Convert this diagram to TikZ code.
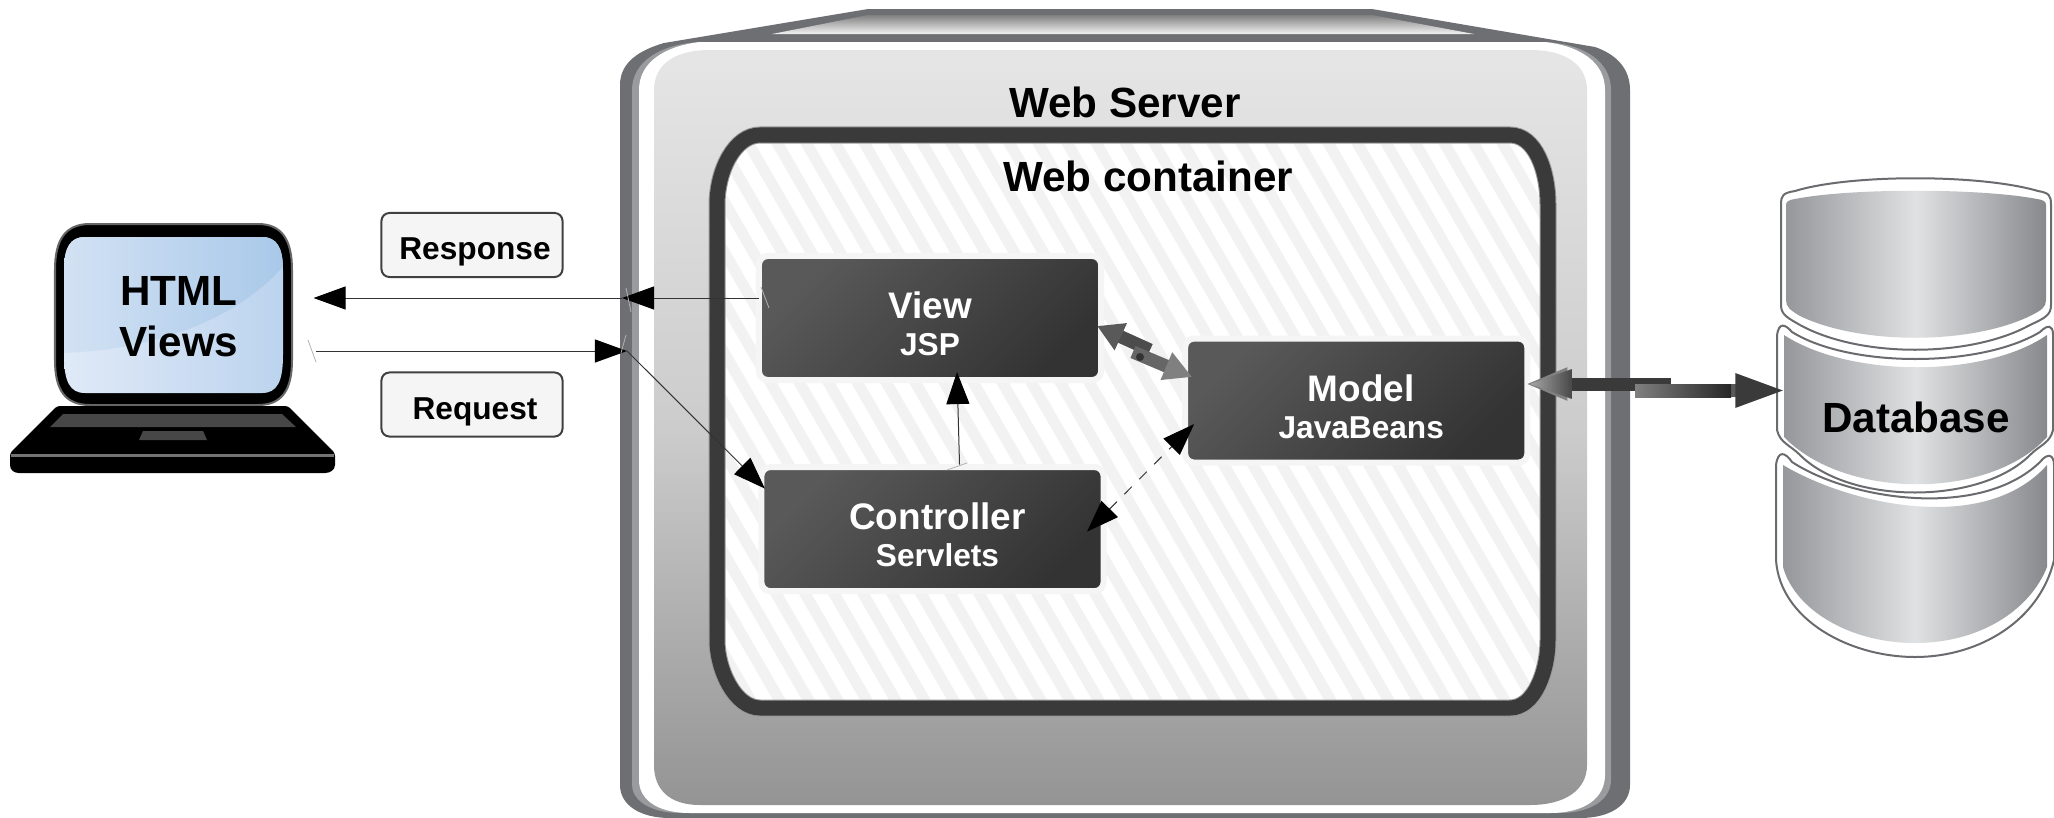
\documentclass[tikz,border=0pt]{standalone}
\usepackage{fontspec}
\setmainfont{Liberation Sans}
\usetikzlibrary{positioning,arrows.meta,calc}
\definecolor{bandDark}{HTML}{6E6F73}
\definecolor{bandLight}{HTML}{9A9B9F}
\definecolor{frameDark}{HTML}{3A3A3A}
\definecolor{stripeGray}{HTML}{F2F2F2}
\definecolor{diskEdge}{HTML}{6A6B6E}
\definecolor{diskSide}{HTML}{96979B}
\definecolor{diskMid}{HTML}{E0E1E2}
\definecolor{diskRight}{HTML}{88898D}
\definecolor{lineGray}{HTML}{333333}
\definecolor{screenTopL}{HTML}{D3E2F3}
\definecolor{screenTopR}{HTML}{A8C8E9}
\definecolor{screenLowL}{HTML}{E0EAF7}
\definecolor{screenLowR}{HTML}{BBD3EE}
\tikzset{
  every picture/.style={line width=0.01cm},
  mvcbox/.style={rectangle, rounded corners=0.09cm, draw=black!4, line width=0.06cm, top color=black!65, bottom color=black!80, shading angle=45, minimum width=3.42cm, minimum height=1.24cm, outer sep=0pt, inner sep=0pt, align=center, text=white, font=\bfseries},
  lblbox/.style={rectangle, rounded corners=0.08cm, draw=black!75, line width=0.02cm, fill=black!4, minimum width=1.81cm, minimum height=0.64cm, align=center, text height=8.5pt, text depth=0pt, font=\fontsize{9}{11}\selectfont\bfseries, path picture={\foreach \h in {-100,-94,...,200} \draw[black!12, line width=0.008cm] (path picture bounding box.north west)++(\h*0.01,0) -- ++(1,-1);}},
  heading/.style={font=\fontsize{12}{14.4}\selectfont\bfseries, align=center, inner sep=0pt},
  thinlink/.style={draw=lineGray, line width=0.01cm},
  fatlink/.style={line width=0.13cm},
  tick/.style={draw=black!30, line width=0.008cm},
  disk/.style={fill=white, draw=diskEdge, line width=0.02cm},
  diskfill/.style={left color=diskSide, right color=diskRight, middle color=diskMid}
}
\newcommand{\mvctext}[3][0cm]{\hspace*{#1}\rule{0pt}{11pt}{\fontsize{10.5}{12}\selectfont #2}\\[-0.05cm]\hspace*{#1}{\fontsize{9}{11}\selectfont #3}}
\tikzset{slim/.tip={Triangle[length=0.32cm,width=0.23cm,color=black]}}
\begin{document}
\begin{tikzpicture}[x=0.01cm,y=-0.01cm]
\useasboundingbox (0,0) rectangle (2054,818);
    % Web server casing
\fill[bandDark] (620,785) -- (620,85) .. controls (620,62) and (640,50) .. (664,43) -- (868,9) -- (1372,9) -- (1595,47) .. controls (1618,55) and (1630,70) .. (1630,90) -- (1630,785) .. controls (1630,805) and (1610,818) .. (1580,818) -- (670,818) .. controls (640,818) and (620,805) .. (620,785) -- cycle;
\shade[top color=black!50, bottom color=black!5] (772,34) -- (868,15) -- (1372,15) -- (1474,34) -- cycle;
\fill[bandLight] (632,785) -- (632,90) .. controls (632,62) and (660,44) .. (700,42) -- (1545,42) .. controls (1585,44) and (1611,62) .. (1611,90) -- (1611,780) .. controls (1611,800) and (1590,813) .. (1560,813) -- (680,813) .. controls (650,813) and (632,800) .. (632,785) -- cycle;
\fill[white] (639,780) -- (639,90) .. controls (639,62) and (665,46) .. (700,42) -- (1545,42) .. controls (1580,46) and (1605,62) .. (1605,90) -- (1605,775) .. controls (1605,798) and (1585,813) .. (1550,813) -- (690,813) .. controls (655,813) and (639,798) .. (639,780) -- cycle;
\shade[top color=black!10, bottom color=black!42, middle color=black!20] (654,90) .. controls (654,68) and (670,50) .. (710,50) -- (1530,50) .. controls (1570,50) and (1587,68) .. (1587,90) -- (1587,765) .. controls (1587,790) and (1565,805) .. (1530,805) -- (700,805) .. controls (670,805) and (654,790) .. (654,765) -- cycle;
    % Web container
\begin{scope}
\clip (717,205) .. controls (717,170) and (735,135) .. (760,135) -- (1510,135) .. controls (1535,135) and (1548,170) .. (1548,205) -- (1548,640) .. controls (1548,670) and (1535,708) .. (1510,708) -- (760,708) .. controls (735,708) and (717,670) .. (717,640) -- cycle;
\fill[white] (700,120) rectangle (1560,720);
\foreach \s in {300,329,...,1600} \draw[stripeGray, line width=0.11cm] (\s,120) -- ++(346,600);
\end{scope}
\draw[black!40, line width=0.17cm] (717,205) .. controls (717,170) and (735,135) .. (760,135) -- (1510,135) .. controls (1535,135) and (1548,170) .. (1548,205) -- (1548,640) .. controls (1548,670) and (1535,708) .. (1510,708) -- (760,708) .. controls (735,708) and (717,670) .. (717,640) -- cycle;
\draw[frameDark, line width=0.15cm] (717,205) .. controls (717,170) and (735,135) .. (760,135) -- (1510,135) .. controls (1535,135) and (1548,170) .. (1548,205) -- (1548,640) .. controls (1548,670) and (1535,708) .. (1510,708) -- (760,708) .. controls (735,708) and (717,670) .. (717,640) -- cycle;
\node[heading] (server) at (1125,102) {Web Server};
\node[heading] (container) at (1148,176) {Web container};

    % Laptop
\fill[black, draw=black!60, line width=0.02cm] (55,270) .. controls (55,240) and (65,224) .. (90,224) -- (258,224) .. controls (282,224) and (292,240) .. (292,270) -- (292,360) .. controls (292,390) and (282,405) .. (258,405) -- (90,405) .. controls (65,405) and (55,390) .. (55,360) -- cycle;
\begin{scope}
\clip (64,270) .. controls (64,248) and (70,237) .. (85,237) -- (262,237) .. controls (277,237) and (283,248) .. (283,270) -- (283,355) .. controls (283,382) and (277,393) .. (262,393) -- (85,393) .. controls (70,393) and (64,382) .. (64,355) -- cycle;
\shade[left color=screenLowL, right color=screenLowR] (60,230) rectangle (290,400);
\shade[left color=screenTopL, right color=screenTopR] (60,230) -- (290,230) -- (290,258) .. controls (250,310) and (170,350) .. (60,353) -- cycle;
\end{scope}
\fill[black, rounded corners=0.03cm] (57,406) -- (288,406) -- (335,453) -- (335,462) .. controls (335,470) and (330,473) .. (322,473) -- (22,473) .. controls (14,473) and (10,470) .. (10,462) -- (10,453) -- cycle;
\fill[black!72] (63,414) -- (282,414) -- (296,427) -- (50,427) -- cycle;
\fill[black!72] (143,431) -- (203,431) -- (207,440) -- (139,440) -- cycle;
\fill[black!55] (11,454) rectangle (334,457);
\node[heading, minimum width=2.68cm] (laptop) at (179,317) {HTML\\Views};

    % Database disks, lowest one first
\draw[disk] (1776,465) .. controls (1778,450) and (1785,452) .. (1792,462) .. controls (1850,500) and (1980,520) .. (2040,462) .. controls (2048,452) and (2054,455) .. (2054,465) -- (2054,560) .. controls (2040,620) and (1980,657) .. (1915,657) .. controls (1850,657) and (1780,620) .. (1776,560) -- cycle;
\shade[diskfill] (1783,465) .. controls (1850,505) and (1985,535) .. (2047,465) -- (2047,567) .. controls (2030,610) and (1980,643) .. (1915,643) .. controls (1850,643) and (1795,610) .. (1783,567) -- cycle;
\draw[disk] (1777,335) .. controls (1779,322) and (1785,324) .. (1792,332) .. controls (1850,368) and (1980,368) .. (2040,332) .. controls (2048,324) and (2053,325) .. (2053,335) -- (2053,430) .. controls (2050,443) and (2040,445) .. (2030,455) .. controls (1980,505) and (1850,505) .. (1800,455) .. controls (1790,445) and (1780,443) .. (1777,430) -- cycle;
\shade[diskfill] (1784,335) .. controls (1850,378) and (1985,378) .. (2047,335) -- (2047,437) .. controls (1990,500) and (1845,500) .. (1784,437) -- cycle;
\draw[disk] (1781,205) .. controls (1781,195) and (1783,193) .. (1795,191) .. controls (1850,174) and (1980,174) .. (2038,191) .. controls (2049,193) and (2051,195) .. (2051,205) -- (2051,305) .. controls (2051,315) and (2045,318) .. (2030,325) .. controls (1970,358) and (1860,358) .. (1800,325) .. controls (1788,318) and (1781,315) .. (1781,305) -- cycle;
\shade[diskfill] (1786,205) .. controls (1786,202) and (1788,200) .. (1795,199) .. controls (1850,188) and (1980,188) .. (2037,199) .. controls (2044,200) and (2046,202) .. (2046,205) -- (2046,300) .. controls (2046,307) and (2042,310) .. (2030,316) .. controls (1970,345) and (1860,345) .. (1800,316) .. controls (1790,310) and (1786,307) .. (1786,300) -- cycle;
\node[heading, minimum width=2.66cm] (db) at (1916,417) {Database};

    % MVC boxes
\node[mvcbox] (view) at (930,318) {\mvctext{View}{JSP}};
\node[mvcbox, below=0.87cm of view, xshift=0.025cm] (controller) {\mvctext[0.1cm]{Controller}{Servlets}};
\node[mvcbox, right=0.84cm of view, yshift=-0.825cm] (model) {\mvctext[0.1cm]{Model}{JavaBeans}};

    % Request and response labels
\node[lblbox] (response) at (472,245) {\hspace*{0.06cm}Response};
\node[lblbox] (request) at (472,404.5) {\hspace*{0.06cm}Request};

    % Connections
\coordinate (respGate) at (622,298);
\coordinate (reqGate) at (627,351);
\coordinate (reqStart) at (316,351);
\draw[thinlink, -slim] (view.west |- respGate) -- (respGate);
\draw[thinlink, -slim] (respGate) -- (laptop.east |- respGate);
\draw[thinlink, -slim] (reqStart) -- (reqGate);
\draw[thinlink, -slim] (reqGate) -- ([xshift=0.035cm,yshift=0.405cm]controller.west);
\draw[thinlink, -slim] ([xshift=0.27cm,yshift=0.025cm]controller.north) -- ([xshift=0.27cm,yshift=0.08cm]view.south);
\draw[thinlink, dashed, slim-slim] ([xshift=-0.165cm,yshift=-0.025cm]controller.east) -- ([xshift=0.09cm,yshift=-0.235cm]model.west);
\draw[tick] (308,340) -- (316,362);
\draw[tick] (947,470) -- (967,463);
\draw[tick] (761,287) -- (769,308);
\draw[tick] (626,288) -- (631,312);
\draw[tick] (621,353) -- (626,335);

    % Twisted links
\coordinate (vmLeft) at (1150,350);
\coordinate (vmRight) at (1133,352);
\draw[fatlink, black!70, {Triangle[length=0.26cm,width=0.28cm,color=black!65]}-] ([xshift=-0.04cm,yshift=-0.08cm]view.east) -- (vmLeft);
\draw[fatlink, black!60, -{Triangle[length=0.28cm,width=0.28cm,color=black!50]}] (vmRight) -- ([xshift=0.07cm,yshift=0.235cm]model.west);
\fill[black!80] (1140,357) circle (4);
\coordinate (mdLeft) at (1671,384);
\coordinate (mdRight) at (1635,390.5);
\draw[fatlink, frameDark, {Triangle[length=0.42cm,width=0.30cm,color=black!50]}-] ([xshift=-0.02cm]model.east |- mdLeft) -- (mdLeft);
\draw[fatlink, black!65, -{Triangle[length=0.52cm,width=0.30cm,color=frameDark]}] (mdRight) -- ([xshift=0.05cm]db.west |- mdRight);
\shade[left color=black!35, right color=black!72] (1530,384) -- (1572,369) -- (1572,399) -- cycle;
\shade[left color=black!50, right color=black!85] (1635,384) rectangle (1731,397);
\end{tikzpicture}
\end{document}
